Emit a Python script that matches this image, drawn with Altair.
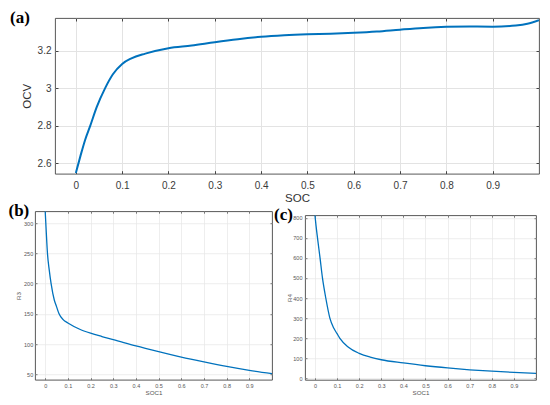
import altair as alt
import pandas as pd

# ---- data ----
soc_a = [0, 0.01, 0.02, 0.031, 0.045, 0.063, 0.08, 0.1, 0.12, 0.15, 0.2, 0.25, 0.3, 0.35,
         0.4, 0.45, 0.5, 0.55, 0.6, 0.65, 0.7, 0.75, 0.8, 0.85, 0.9, 0.95, 0.975, 1.0]
ocv_a = [2.549, 2.64, 2.725, 2.8, 2.9, 3.0, 3.075, 3.13, 3.16, 3.185, 3.214, 3.228, 3.246, 3.262,
         3.275, 3.283, 3.288, 3.291, 3.296, 3.303, 3.313, 3.322, 3.328, 3.330, 3.329, 3.335, 3.344, 3.363]

soc_b = [0, 0.005, 0.01, 0.018, 0.026, 0.04, 0.05, 0.061, 0.08, 0.1, 0.15, 0.2, 0.25, 0.3,
         0.4, 0.5, 0.6, 0.7, 0.8, 0.9, 1.0]
r3_b = [320, 283, 250, 222, 200, 173, 162, 150, 140, 135, 125, 118, 112.5, 107.5,
        97, 87.5, 78.5, 70.5, 63, 56.5, 51]

soc_c = [0, 0.005, 0.0115, 0.023, 0.034, 0.049, 0.0675, 0.085, 0.1, 0.112, 0.15, 0.2, 0.25, 0.3,
         0.4, 0.5, 0.6, 0.7, 0.8, 0.9, 1.0]
r4_c = [813, 760, 700, 600, 500, 400, 300, 250, 222, 200, 156, 124, 105, 92,
        76, 62, 51, 42, 35, 29, 24]

x_ticks = [0, 0.1, 0.2, 0.3, 0.4, 0.5, 0.6, 0.7, 0.8, 0.9]
y_ticks_a = [2.6, 2.8, 3.0, 3.2]
y_ticks_b = [50, 100, 150, 200, 250, 300]
y_ticks_c = [0, 100, 200, 300, 400, 500, 600, 700, 800]
panel_labels = ["(a)", "(b)", "(c)"]

LINE = "#0072BD"
SANS = "Liberation Sans"
BOX = "#454545"
LABEL_EXPR = "format(datum.value, '~g')"


def panel(xs, ys, xname, yname, xdom, ydom, yticks, W, H, st, label, lab_xy):
    df = pd.DataFrame({xname: xs, yname: ys})
    T = st["tick"]
    common_axis = dict(
        tickSize=T, offset=-T, tickColor=BOX, tickWidth=st["tw"],
        domain=False, labelFont=SANS, labelFontSize=st["lfs"], labelColor=st["lc"],
        titleFont=SANS, titleFontSize=st["tfs"], titleFontWeight="normal",
        titleColor=st["tc"], gridColor=st["grid"], gridWidth=st["gw"],
        labelFlush=False, labelOverlap=False, labelExpr=LABEL_EXPR,
    )
    xs_ = alt.Scale(domain=xdom, nice=False, zero=False)
    ys_ = alt.Scale(domain=ydom, nice=False, zero=False)
    line = alt.Chart(df).mark_line(color=LINE, strokeWidth=st["lw"],
                                   interpolate="monotone", clip=True).encode(
        x=alt.X(xname, type="quantitative", scale=xs_,
                axis=alt.Axis(orient="bottom", values=x_ticks, title=xname, grid=True,
                              labelPadding=st["xlp"], titlePadding=st["xtp"], **common_axis)),
        y=alt.Y(yname, type="quantitative", scale=ys_,
                axis=alt.Axis(orient="left", values=yticks, title=yname, grid=True,
                              labelPadding=st["ylp"], titlePadding=st["ytp"], **common_axis)),
    )
    ticks = alt.Chart(df).mark_line(opacity=0).encode(
        x=alt.X(xname, type="quantitative", scale=xs_,
                axis=alt.Axis(orient="top", values=x_ticks, title="", labels=False, grid=False,
                              tickSize=T, offset=-T, tickColor=BOX, tickWidth=st["tw"],
                              domain=False)),
        y=alt.Y(yname, type="quantitative", scale=ys_,
                axis=alt.Axis(orient="right", values=yticks, title="", labels=False, grid=False,
                              tickSize=T, offset=-T, tickColor=BOX, tickWidth=st["tw"],
                              domain=False)),
    )
    lab = alt.Chart(pd.DataFrame({"t": [label]})).mark_text(
        font="Liberation Serif", fontSize=17, fontWeight="bold", color="#000000",
        align="left", baseline="middle").encode(
        text="t:N", x=alt.value(lab_xy[0]), y=alt.value(lab_xy[1]))
    return alt.layer(line, ticks, lab).properties(width=W, height=H)


def spacer(w, h):
    return alt.Chart(pd.DataFrame({"v": [0]})).mark_point(opacity=0, size=1).properties(
        width=w, height=h, view=alt.ViewBackground(stroke="transparent", fill="transparent"))


style_a = dict(tick=3, tw=1, lfs=10, lc="#3a3a3a", tfs=11.5, tc="#333333",
               grid="#e3e3e3", gw=1, lw=2, xlp=7, xtp=2, ylp=4, ytp=4.5)
style_b = dict(tick=2, tw=0.7, lfs=5.5, lc="#555555", tfs=6.2, tc="#555555",
               grid="#e6e6e6", gw=0.7, lw=1.3, xlp=4, xtp=0.5, ylp=2.3, ytp=2.3)
style_c = dict(style_b)
style_c.update(ylp=3, ytp=0.6, xtp=0)

pa = panel(soc_a, ocv_a, "SOC", "OCV", [-0.045, 1.0], [2.545, 3.375], y_ticks_a,
           484, 155.7, style_a, panel_labels[0], (-45, 0))
pb = panel(soc_b, r3_b, "SOC1", "R3", [-0.045, 1.0], [41, 320], y_ticks_b,
           237, 168.5, style_b, panel_labels[1], (-26.5, -0.5))
pc = panel(soc_c, r4_c, "SOC1", "R4", [-0.045, 1.0], [-8, 813], y_ticks_c,
           231, 164.6, style_c, panel_labels[2], (-30.9, -0.5))

# flush layout: a nested group counts as zero-sized, so the row spacing is the full
# distance from the top of (a) to the top of (b)
row1 = alt.hconcat(spacer(19.5, 1), pa, spacing=0, bounds="flush")
col_c = alt.vconcat(spacer(1, 3.9), pc, spacing=0, bounds="flush")
row2 = alt.hconcat(pb, col_c, spacing=33, bounds="flush")

chart = alt.vconcat(row1, row2, spacing=193.2, bounds="flush").properties(
    autosize=alt.AutoSizeParams(type="pad"),
    padding={"left": 0, "top": 0, "right": 0, "bottom": 0},
    background="#ffffff",
).configure_view(stroke=BOX, strokeWidth=0.9)

chart.save("out.html", embed_options={"renderer": "svg", "actions": False})
